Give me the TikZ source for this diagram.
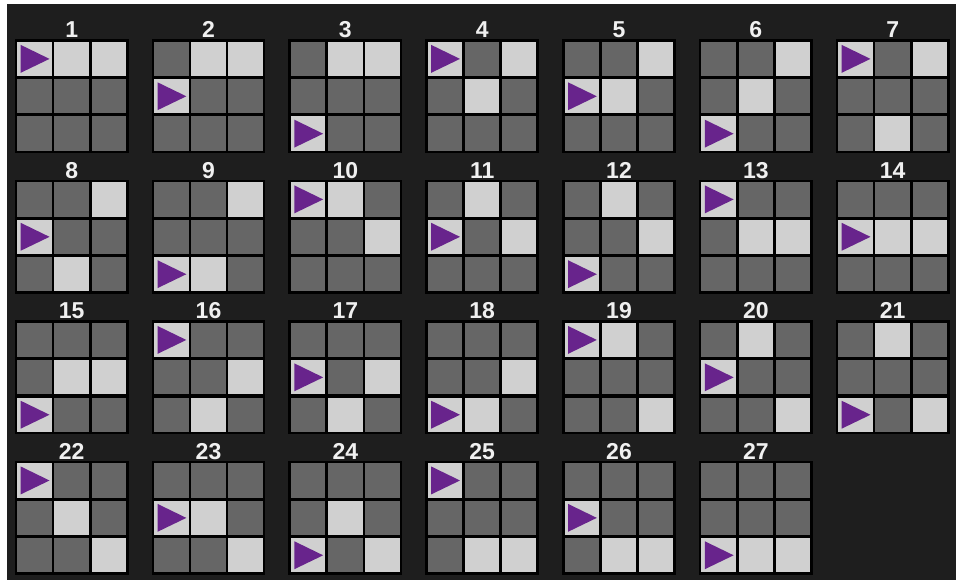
\documentclass[tikz,border=0pt]{standalone}
\usepackage{fontspec}
\setmainfont{Liberation Sans}
\usepackage{tikz}
\usetikzlibrary{positioning}
\definecolor{panelbg}{RGB}{30,30,30}
\definecolor{celldark}{RGB}{102,102,102}
\definecolor{celllight}{RGB}{208,208,208}
\definecolor{markpurple}{RGB}{104,36,140}
\definecolor{numwhite}{RGB}{240,240,240}

\tikzset{
  cellbox/.style={fill=celldark},
  litbox/.style={fill=celllight},
  marker/.style={fill=markpurple},
  num/.style={text=numwhite, inner sep=0pt, font=\fontsize{23}{24}\selectfont\bfseries}
}

\begin{document}
\begin{tikzpicture}[x=1pt,y=-1pt]
  \useasboundingbox (0,0) rectangle (956,580);
  \fill[white] (0,0) rectangle (956,580);
  \fill[panelbg] (7,4) rectangle (956,580);

  % 27 patterns: triangle in column 0, one lit cell in columns 1 and 2
  \foreach \n in {0,...,26} {
    \pgfmathtruncatemacro{\col}{mod(\n,7)}
    \pgfmathtruncatemacro{\row}{int(\n/7)}
    \pgfmathtruncatemacro{\ra}{mod(\n,3)}
    \pgfmathtruncatemacro{\rb}{mod(int(\n/3),3)}
    \pgfmathtruncatemacro{\rc}{int(\n/9)}
    \pgfmathtruncatemacro{\lab}{\n+1}
    \pgfmathsetmacro{\gx}{17.3+136.83*\col}
    \pgfmathsetmacro{\gy}{41.7+140.53*\row}
    \begin{scope}[shift={(\gx,\gy)}]
      \fill[black] (-2.6,-2.6) rectangle (111.3,111.5);
      \foreach \i in {0,1,2}
        \foreach \j in {0,1,2}
          \fill[cellbox] (37.15*\i, 37.4*\j) rectangle ++(34.4,34.3);
      \fill[litbox] (0, 37.4*\ra) rectangle ++(34.4,34.3);
      \fill[litbox] (37.15, 37.4*\rb) rectangle ++(34.4,34.3);
      \fill[litbox] (74.3, 37.4*\rc) rectangle ++(34.4,34.3);
      \fill[marker] (3.4, 37.4*\ra+3.2) -- (32.2, 37.4*\ra+17.2)
        -- (3.4, 37.4*\ra+31.1) -- cycle;
      \node[num] (lbl\lab) at (54.4,-11.8) {\lab};
    \end{scope}
  }
\end{tikzpicture}
\end{document}
